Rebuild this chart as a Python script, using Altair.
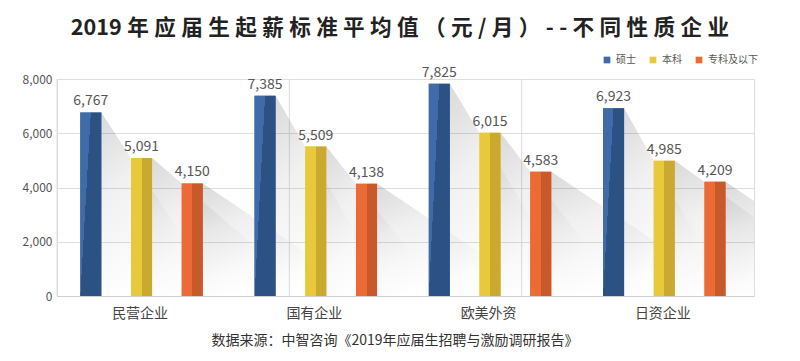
import altair as alt
import pandas as pd

categories = ["民营企业", "国有企业", "欧美外资", "日资企业"]
series = ["硕士", "本科", "专科及以下"]
master = [6767, 7385, 7825, 6923]
bachelor = [5091, 5509, 6015, 4985]
college = [4150, 4138, 4583, 4209]
light_colors = ["#3f6ca8", "#e9c93c", "#ec6a35"]
dark_colors = ["#2c5283", "#c9a92f", "#c8592b"]
title_text = "2019年应届生起薪标准平均值（元/月）--不同性质企业"
source_text = "数据来源：中智咨询《2019年应届生招聘与激励调研报告》"

rows = []
for i, c in enumerate(categories):
    for s, vals in zip(series, [master, bachelor, college]):
        rows.append({"企业": c, "学历": s, "值": vals[i]})
df = pd.DataFrame(rows)

FONT = "Noto Sans CJK SC"
W, H = 697, 217

# band geometry of the grouped bars (fractions of one category band)
PI, PO, AL = 0.585, 0.51, 0.45
step_f = 1.0 / (3 - PI + 2 * PO)
bw_f = step_f * (1 - PI)
start_f = (1 - step_f * (3 - PI)) * AL
gap_f = step_f - bw_f

x_scale = alt.Scale(paddingInner=0, paddingOuter=0)
x_axis = alt.Axis(labelFontSize=14, labelColor="#444", labelAngle=0,
                  labelPadding=10, labelOffset=-4, ticks=False, domain=True,
                  domainColor="#cfcfcf", grid=False, labelFont=FONT)
x_enc = alt.X("企业:N", sort=categories, title=None, scale=x_scale, axis=x_axis)
x_enc_noaxis = alt.X("企业:N", sort=categories, title=None, scale=x_scale, axis=None)
xo_enc = alt.XOffset("学历:N", sort=series,
                     scale=alt.Scale(domain=series, paddingInner=PI, paddingOuter=PO, align=AL))
y_scale = alt.Scale(domain=[0, 8000])
y_axis = alt.Axis(values=[0, 2000, 4000, 6000, 8000], format=",d",
                  labelFontSize=12, labelColor="#555", ticks=False,
                  domain=False, gridColor="#dedede", labelPadding=5,
                  labelFont=FONT)
y_enc = alt.Y("值:Q", title=None, scale=y_scale, axis=y_axis)

base = alt.Chart(df)

# soft diagonal shadows cast by each bar
px_per_val = H / 8000.0
last_len = px_per_val / 0.67 / (W / 4.0)   # category units per value unit
shadow_grad = alt.Gradient(gradient="linear", x1=0, y1=0, x2=0.55, y2=1,
                           stops=[alt.GradientStop(color="rgba(0,0,0,0.15)", offset=0),
                                  alt.GradientStop(color="rgba(0,0,0,0.06)", offset=0.35),
                                  alt.GradientStop(color="rgba(0,0,0,0.0)", offset=0.85)])
shadows = base.transform_calculate(
    sorder=f"indexof({series}, datum['学历'])",
    ci=f"indexof({categories}, datum['企业'])",
).transform_window(
    nxt="lead(值)", groupby=["企业"], sort=[alt.SortField("sorder")],
).transform_calculate(
    xr=f"datum.ci + {start_f} + datum.sorder * {step_f} + {bw_f}",
    L=f"isValid(datum.nxt) ? {gap_f} * datum['值'] / (datum['值'] - datum.nxt) : datum['值'] * {last_len}",
    bid="datum['企业'] + datum['学历']",
    p0="0", p1="1",
).transform_fold(["p0", "p1"], as_=["k", "kv"]).transform_calculate(
    sx="datum.k == 'p0' ? datum.xr : datum.xr + datum.L",
    sy="datum.k == 'p0' ? datum['值'] : 0",
).mark_area(fill=shadow_grad, clip=True, interpolate="linear").encode(
    x=alt.X("sx:Q", scale=alt.Scale(domain=[0, 4], nice=False, zero=True), axis=None),
    y=alt.Y("sy:Q", title=None, scale=y_scale, axis=y_axis, stack=None),
    detail="bid:N",
)

bars = base.mark_bar().encode(
    x=x_enc, xOffset=xo_enc, y=y_enc,
    color=alt.Color("学历:N", sort=series,
                    scale=alt.Scale(domain=series, range=light_colors),
                    legend=alt.Legend(title=None, orient="none", direction="horizontal",
                                      legendX=545, legendY=-24, symbolType="square",
                                      symbolSize=45, symbolStrokeWidth=0,
                                      labelFontSize=10, labelColor="#555",
                                      columnPadding=12, labelFont=FONT)),
)

shade_layers = []
for idx, (s, lc, dc) in enumerate(zip(series, light_colors, dark_colors)):
    if idx == 0:
        grad = alt.Gradient(gradient="linear", x1=0, y1=0, x2=1, y2=0.5,
                            stops=[alt.GradientStop(color=lc, offset=0),
                                   alt.GradientStop(color=lc, offset=0.4),
                                   alt.GradientStop(color=dc, offset=0.4),
                                   alt.GradientStop(color=dc, offset=1)])
    else:
        grad = alt.Gradient(gradient="linear", x1=0, x2=1, y1=0, y2=0,
                            stops=[alt.GradientStop(color=lc, offset=0),
                                   alt.GradientStop(color=lc, offset=0.5),
                                   alt.GradientStop(color=dc, offset=0.5),
                                   alt.GradientStop(color=dc, offset=1)])
    shade_layers.append(
        base.transform_filter(alt.datum["学历"] == s)
        .mark_bar(fill=grad)
        .encode(x=x_enc_noaxis, xOffset=xo_enc, y=y_enc)
    )

labels = base.mark_text(dy=-4, fontSize=14, color="#555", font=FONT,
                        fontWeight=400, baseline="bottom").encode(
    x=x_enc_noaxis, xOffset=xo_enc, y=y_enc,
    text=alt.Text("值:Q", format=",d"),
)

sep = alt.Chart(pd.DataFrame({"企业": categories[1:]})).mark_rule(
    color="#dcdcdc", strokeWidth=1).encode(
    x=alt.X("企业:N", sort=categories, bandPosition=0, scale=x_scale, axis=None),
)

spaced_title = "\u2005".join(["2019"] + list(title_text[4:]))
title = alt.Chart(pd.DataFrame({"t": [spaced_title]})).mark_text(
    fontSize=21.6, fontWeight="bold", color="#222", font=FONT, baseline="middle").encode(
    x=alt.value(343), y=alt.value(-50), text="t:N")

footer = alt.Chart(pd.DataFrame({"t": [source_text]})).mark_text(
    fontSize=14, color="#333", font=FONT, baseline="middle").encode(
    x=alt.value(338), y=alt.value(262), text="t:N")

chart = alt.layer(sep, shadows, bars, *shade_layers, labels, title, footer).resolve_scale(
    x="independent").properties(
    width=W, height=H,
    autosize=alt.AutoSizeParams(type="none"),
    padding={"left": 49, "top": 71, "right": 38, "bottom": 57},
).configure_view(fill="#f6f6f6", stroke="#dcdcdc").configure(background="white")

chart.save("out.html", embed_options={"renderer": "svg", "actions": False})
